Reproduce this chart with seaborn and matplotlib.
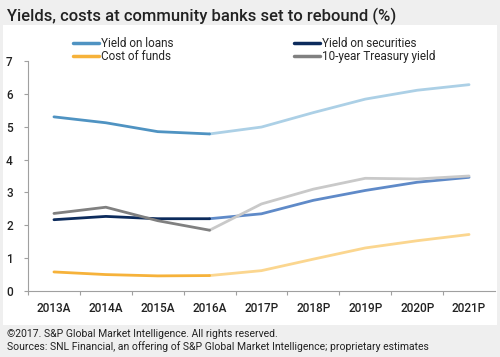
import matplotlib
matplotlib.use("Agg")
import matplotlib.pyplot as plt
from matplotlib.patches import Rectangle
from matplotlib.lines import Line2D
import seaborn as sns
import pandas as pd

years = ["2013A", "2014A", "2015A", "2016A", "2017P", "2018P", "2019P", "2020P", "2021P"]
yield_on_loans = [5.30, 5.12, 4.85, 4.78, 4.99, 5.43, 5.84, 6.11, 6.28]
yield_on_securities = [2.17, 2.27, 2.20, 2.20, 2.35, 2.76, 3.06, 3.31, 3.46]
cost_of_funds = [0.58, 0.50, 0.46, 0.47, 0.62, 0.97, 1.31, 1.53, 1.72]
treasury_10y = [2.36, 2.55, 2.14, 1.85, 2.65, 3.10, 3.43, 3.41, 3.50]
n_actual = 4  # 2013A-2016A are actuals

series = [
    ("Yield on loans", yield_on_loans, "#4f93c2", "#acd0e6"),
    ("Yield on securities", yield_on_securities, "#0c2b5c", "#5f8ac8"),
    ("Cost of funds", cost_of_funds, "#f6b23a", "#fbd68f"),
    ("10-year Treasury yield", treasury_10y, "#808080", "#c9c9c9"),
]

sns.set_theme(style="white")
plt.rcParams["font.family"] = ["Roboto", "DejaVu Sans"]

fig = plt.figure(figsize=(5, 3.57), dpi=100, facecolor="#efefef")
bg = Rectangle((3 / 500, 1 - 325 / 357), 494 / 500, 300 / 357,
               transform=fig.transFigure, facecolor="white",
               edgecolor="none", zorder=-10)
fig.patches.append(bg)
ax = fig.add_axes([28 / 500, 1 - 291 / 357, 467 / 500, 230 / 357])
ax.set_zorder(1)
ax.set_facecolor("white")

x_idx = list(range(len(years)))
for name, vals, c_act, c_proj in series:
    df = pd.DataFrame({"x": x_idx, "y": vals})
    sns.lineplot(data=df.iloc[n_actual - 1:], x="x", y="y", color=c_proj, lw=2.0, ax=ax)
    sns.lineplot(data=df.iloc[:n_actual], x="x", y="y", color=c_act, lw=2.0, ax=ax)

ax.set_xlim(-0.5, len(years) - 0.5)
ax.set_ylim(0, 7)
ax.set_yticks(range(0, 8))
ax.set_xticks(x_idx)
ax.set_xticklabels(years)
ax.set_xticks([i - 0.5 for i in range(len(years))], minor=True)
ax.set_xlabel("")
ax.set_ylabel("")
for s in ["top", "right"]:
    ax.spines[s].set_visible(False)
for s in ["left", "bottom"]:
    ax.spines[s].set_color("#a0a0a0")
    ax.spines[s].set_linewidth(0.8)
ax.tick_params(axis="x", which="major", length=0, pad=8, labelsize=8.5, labelcolor="#222222")
ax.tick_params(axis="x", which="minor", length=3, color="#a0a0a0", width=0.8, bottom=True)
ax.tick_params(axis="y", length=3, color="#a0a0a0", width=0.8, left=True, pad=8,
               labelsize=8.5, labelcolor="#222222")
for lbl in ax.get_xticklabels() + ax.get_yticklabels():
    lbl.set_fontweight("medium")

handles = [Line2D([0], [0], color=c_act, lw=2.5) for _, _, c_act, _ in series]
labels = [s[0] for s in series]
# order for 2 columns: column1 = loans, cost; column2 = securities, treasury
fig.legend([handles[0], handles[2], handles[1], handles[3]],
           [labels[0], labels[2], labels[1], labels[3]],
           ncol=2, loc="center left", bbox_to_anchor=(67 / 500, 1 - 50 / 357),
           frameon=False, fontsize=8.5, handlelength=2.2, handletextpad=0.2,
           labelspacing=0.05, columnspacing=10.2, borderpad=0)

fig.text(7 / 500, 1 - 16 / 357, "Yields, costs at community banks set to rebound (%)",
         fontsize=12, fontweight="medium", color="#222222", va="center", ha="left")
fig.text(7 / 500, 1 - 334 / 357, "©2017. S&P Global Market Intelligence. All rights reserved.",
         fontsize=7.5, color="#222222", va="center", ha="left")
fig.text(7 / 500, 1 - 347 / 357,
         "Sources: SNL Financial, an offering of S&P Global Market Intelligence; proprietary estimates",
         fontsize=7.5, color="#222222", va="center", ha="left")

fig.savefig("out.png", dpi=100, facecolor=fig.get_facecolor())
